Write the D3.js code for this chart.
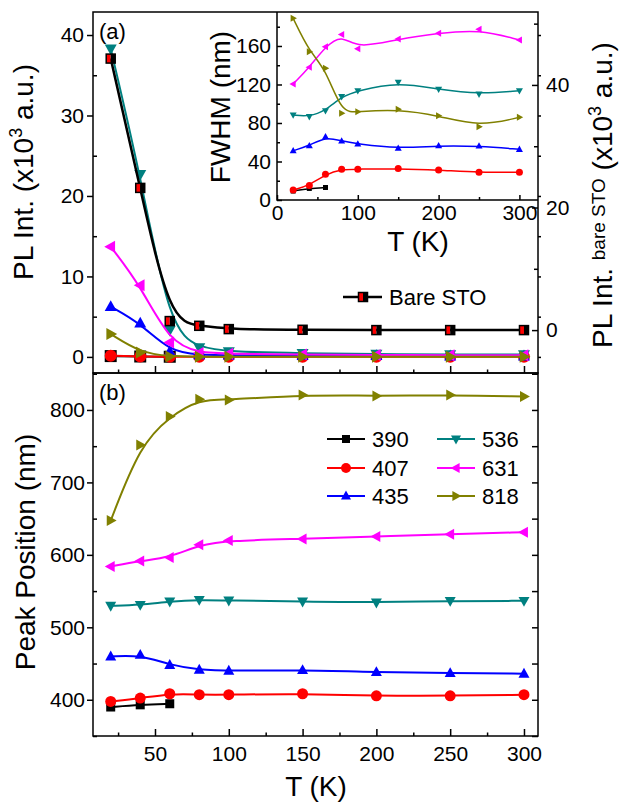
<!DOCTYPE html>
<html><head><meta charset="utf-8">
<script src="https://cdn.jsdelivr.net/npm/d3@7"></script>
<style>body{margin:0;background:#fff} text{font-family:"Liberation Sans",Arial,sans-serif;fill:#000}</style>
</head><body><svg id="c" width="621" height="804"></svg>
<script>
// ---------------- data ----------------
const temps = [20, 40, 60, 80, 100, 150, 200, 250, 300];
const temps390 = [20, 40, 60];
const seriesNames = ["390", "407", "435", "536", "631", "818"];
const seriesColors = ["#000000", "#ff0000", "#0000ff", "#008080", "#ff00ff", "#808000"];
const seriesSymbols = ["square", "circle", "triUp", "triDown", "triLeft", "triRight"];

// (a) PL intensity (x10^3 a.u.), left axis
const int390 = [0.1, 0.05, 0.02];
const int407 = [0.15, 0.05, 0.02, 0.01, 0.01, 0.01, 0.01, 0.01, 0.01];
const int435 = [6.25, 4.2, 0.65, 0.25, 0.2, 0.15, 0.15, 0.1, 0.1];
const int536 = [38.3, 22.7, 3.35, 1.15, 0.65, 0.45, 0.35, 0.3, 0.3];
const int631 = [13.7, 8.9, 1.8, 0.5, 0.4, 0.3, 0.25, 0.2, 0.2];
const int818 = [2.85, 0.55, 0.05, 0.03, 0.03, 0.02, 0.02, 0.02, 0.02];
// (a) bare STO (x10^3 a.u.), right axis
const bareSTO = [44.3, 23.2, 1.47, 0.7, 0.16, 0.05, 0, 0, 0];

// inset FWHM (nm)
const fw390 = [9.3, 12, 13];
const fw407 = [10.4, 15, 26.7, 31.9, 32, 32.6, 31.2, 28.7, 28.7];
const fw435 = [51.2, 56.4, 65.8, 61.3, 58.2, 53.7, 56.4, 56, 52.6];
const fw536 = [88.3, 86.6, 92.8, 107.4, 113.6, 122.3, 115, 110, 113.6];
const fw631 = [120.5, 137.8, 159.3, 171.8, 157, 167.3, 173.2, 177.3, 166.2];
const fw818 = [188.7, 154, 136.8, 90, 91.8, 94.2, 87.6, 76.2, 85.9];

// (b) peak position (nm)
const pos390 = [390, 393, 394.5];
const pos407 = [397.7, 402.3, 408.3, 407, 407, 408.3, 405.5, 405.5, 407];
const pos435 = [459.8, 462, 448, 441.4, 440, 441, 438.2, 436.8, 436];
const pos536 = [529.7, 531, 535.6, 537.9, 537, 535.6, 534.2, 536.5, 536.5];
const pos631 = [583.9, 591.7, 596.3, 613.8, 619.8, 622, 625.3, 628.5, 631.3];
const pos818 = [647.3, 751.7, 790.8, 814.7, 813.8, 820.7, 819.3, 820.7, 818.4];

const intTicks = [0, 10, 20, 30, 40];
const intMinor = [5, 15, 25, 35];
const stoTicks = [0, 20, 40];
const stoMinor = [10, 30, 50];
const posTicks = [400, 500, 600, 700, 800];
const posMinor = [350, 450, 550, 650, 750, 850];
const tTicks = [50, 100, 150, 200, 250, 300];
const tMinor = [25, 75, 125, 175, 225, 275];
const fwTicks = [0, 40, 80, 120, 160];
const fwMinor = [20, 60, 100, 140, 180];
const itTicks = [0, 100, 200, 300];
const itMinor = [50, 150, 250];

// ---------------- layout ----------------
const svg = d3.select("#c");
const L = 93, R = 538, Atop = 12, Abot = 373, Bbot = 736;
const x = d3.scaleLinear().domain([8, 309.5]).range([L, R]);
const yA = d3.scaleLinear().domain([-2, 42.86]).range([Abot, Atop]);
const yS = d3.scaleLinear().domain([-7.0, 51.9]).range([Abot, Atop]);
const yB = d3.scaleLinear().domain([350, 851]).range([Bbot, Abot]);
const IL = 277, IB = 200;
const xi = d3.scaleLinear().domain([0, 323]).range([IL, R]);
const yi = d3.scaleLinear().domain([0, 195.3]).range([IB, Atop]);

function markerPath(type, s) {
  const h = s * 0.9;
  switch (type) {
    case "square": return `M${-s/2},${-s/2}h${s}v${s}h${-s}Z`;
    case "circle": return d3.arc()({innerRadius:0, outerRadius:s/2, startAngle:0, endAngle:2*Math.PI});
    case "triUp": return `M0,${-h*0.6}L${s/2},${h*0.4}L${-s/2},${h*0.4}Z`;
    case "triDown": return `M0,${h*0.6}L${s/2},${-h*0.4}L${-s/2},${-h*0.4}Z`;
    case "triLeft": return `M${-h*0.6},0L${h*0.4},${s/2}L${h*0.4},${-s/2}Z`;
    case "triRight": return `M${h*0.6},0L${-h*0.4},${s/2}L${-h*0.4},${-s/2}Z`;
  }
}

function drawSeries(g, xs, ys, xScale, yScale, color, sym, size, lw, curve) {
  const pts = xs.map((t, i) => [xScale(t), yScale(ys[i])]);
  g.append("path").attr("d", d3.line().curve(curve)(pts))
    .attr("fill", "none").attr("stroke", color).attr("stroke-width", lw);
  g.selectAll(null).data(pts).enter().append("path")
    .attr("d", markerPath(sym, size))
    .attr("transform", d => `translate(${d[0]},${d[1]})`)
    .attr("fill", color);
}

function bareMarker(g, px, py, s) {
  g.append("rect").attr("x", px - s/2).attr("y", py - s/2).attr("width", s/2).attr("height", s).attr("fill", "#ff0000");
  g.append("rect").attr("x", px).attr("y", py - s/2).attr("width", s/2).attr("height", s).attr("fill", "#000");
  g.append("rect").attr("x", px - s/2).attr("y", py - s/2).attr("width", s).attr("height", s)
    .attr("fill", "none").attr("stroke", "#000").attr("stroke-width", 1.5);
}

function styleAxis(g, fs) {
  g.select(".domain").remove();
  g.selectAll("line").attr("stroke", "#000").attr("stroke-width", 1.5);
  g.selectAll("text").attr("font-size", fs).attr("font-family", "Liberation Sans, Arial, sans-serif").attr("fill", "#000");
}
function axis(gen, tx, ty, fs) {
  const g = svg.append("g").attr("transform", `translate(${tx},${ty})`).call(gen);
  styleAxis(g, fs || 21);
  return g;
}
const smooth = d3.curveBasis;

// ---------------- panel (a) ----------------
const gA = svg.append("g");
const intSets = [int390, int407, int435, int536, int631, int818];
intSets.forEach((arr, i) => {
  const xs = i === 0 ? temps390 : temps;
  drawSeries(gA, xs, arr, x, yA, seriesColors[i], seriesSymbols[i], 12, 2, smooth);
});
// bare STO line (right axis)
const stoPts = temps.map((t, i) => [x(t), yS(bareSTO[i])]);
gA.append("path").attr("d", d3.line().curve(smooth)(stoPts))
  .attr("fill", "none").attr("stroke", "#000").attr("stroke-width", 2.5);
stoPts.forEach(p => bareMarker(gA, p[0], p[1], 9));

// inset background
svg.append("rect").attr("x", IL).attr("y", Atop).attr("width", R - IL).attr("height", IB - Atop).attr("fill", "#fff");

// frames
svg.append("rect").attr("x", L).attr("y", Atop).attr("width", R - L).attr("height", Abot - Atop)
  .attr("fill", "none").attr("stroke", "#000").attr("stroke-width", 1.5);
svg.append("rect").attr("x", L).attr("y", Abot).attr("width", R - L).attr("height", Bbot - Abot)
  .attr("fill", "none").attr("stroke", "#000").attr("stroke-width", 1.5);

// axes panel (a)
axis(d3.axisLeft(yA).tickValues(intTicks).tickSize(6).tickPadding(3).tickFormat(d3.format("d")), L, 0);
axis(d3.axisLeft(yA).tickValues(intMinor).tickSize(-4).tickFormat(""), L, 0);
axis(d3.axisRight(yS).tickValues(stoTicks).tickSize(-6).tickPadding(8).tickFormat(d3.format("d")), R, 0);
axis(d3.axisRight(yS).tickValues(stoMinor).tickSize(-4).tickFormat(""), R, 0);
axis(d3.axisRight(yA).tickValues(intTicks.concat(intMinor)).tickSize(3).tickFormat(""), R, 0);
axis(d3.axisBottom(x).tickValues(tTicks).tickSize(-7).tickFormat(""), 0, Abot);
axis(d3.axisBottom(x).tickValues(tMinor).tickSize(-3.5).tickFormat(""), 0, Abot);

// ---------------- inset ----------------
const gI = svg.append("g");
const fwSets = [fw390, fw407, fw435, fw536, fw631, fw818];
fwSets.forEach((arr, i) => {
  const xs = i === 0 ? temps390 : temps;
  drawSeries(gI, xs, arr, xi, yi, seriesColors[i], seriesSymbols[i], i === 0 ? 5 : 7, 1.5, smooth);
});
svg.append("path").attr("d", `M${IL},${Atop}V${IB}H${R}`).attr("fill", "none").attr("stroke", "#000").attr("stroke-width", 1.5);
axis(d3.axisLeft(yi).tickValues(fwTicks).tickSize(-5).tickPadding(6).tickFormat(d3.format("d")), IL, 0);
axis(d3.axisLeft(yi).tickValues(fwMinor.filter(v => v < 195)).tickSize(-3).tickFormat(""), IL, 0);
axis(d3.axisBottom(xi).tickValues(itTicks).tickSize(-5).tickPadding(5).tickFormat(d3.format("d")), 0, IB);
axis(d3.axisBottom(xi).tickValues(itMinor).tickSize(-3).tickFormat(""), 0, IB);

svg.append("text").attr("transform", `translate(230,107) rotate(-90)`).attr("text-anchor", "middle")
  .attr("font-size", 28).text("FWHM (nm)");
svg.append("text").attr("x", 418).attr("y", 251).attr("text-anchor", "middle").attr("font-size", 28).text("T (K)");

// legend bare STO
svg.append("line").attr("x1", 343).attr("x2", 382).attr("y1", 297).attr("y2", 297).attr("stroke", "#000").attr("stroke-width", 2.5);
bareMarker(svg, 363, 297, 9);
svg.append("text").attr("x", 389).attr("y", 297).attr("dy", "0.35em").attr("font-size", 22).text("Bare STO");

svg.append("text").attr("x", 99).attr("y", 39).attr("font-size", 22).text("(a)");

// axis titles (a)
const tl = svg.append("text").attr("transform", `translate(33,172) rotate(-90)`).attr("text-anchor", "middle").attr("font-size", 28);
tl.append("tspan").text("PL Int. (x10");
tl.append("tspan").attr("dy", -11).attr("font-size", 18).text("3");
tl.append("tspan").attr("dy", 11).text(" a.u.)");

const tr = svg.append("text").attr("transform", `translate(612,195) rotate(-90)`).attr("text-anchor", "middle").attr("font-size", 28);
tr.append("tspan").text("PL Int. ");
tr.append("tspan").attr("dy", -7).attr("font-size", 19).text("bare STO");
tr.append("tspan").attr("dy", 7).text(" (x10");
tr.append("tspan").attr("dy", -11).attr("font-size", 18).text("3");
tr.append("tspan").attr("dy", 11).text(" a.u.)");

// ---------------- panel (b) ----------------
const gB = svg.append("g");
const posSets = [pos390, pos407, pos435, pos536, pos631, pos818];
posSets.forEach((arr, i) => {
  const xs = i === 0 ? temps390 : temps;
  drawSeries(gB, xs, arr, x, yB, seriesColors[i], seriesSymbols[i], i === 0 ? 9 : 11, 2, smooth);
});
axis(d3.axisLeft(yB).tickValues(posTicks).tickSize(6).tickPadding(2).tickFormat(d3.format("d")), L, 0);
axis(d3.axisLeft(yB).tickValues(posMinor).tickSize(-4).tickFormat(""), L, 0);
axis(d3.axisRight(yB).tickValues(posTicks.concat(posMinor)).tickSize(-6).tickFormat(""), R, 0);
axis(d3.axisBottom(x).tickValues(tTicks).tickSize(-7).tickPadding(10).tickFormat(d3.format("d")), 0, Bbot);
axis(d3.axisBottom(x).tickValues(tMinor).tickSize(-3.5).tickFormat(""), 0, Bbot);

svg.append("text").attr("x", 99).attr("y", 400).attr("font-size", 22).text("(b)");
svg.append("text").attr("transform", `translate(35,552) rotate(-90)`).attr("text-anchor", "middle").attr("font-size", 28).text("Peak Position (nm)");
svg.append("text").attr("x", 316).attr("y", 796).attr("text-anchor", "middle").attr("font-size", 28).text("T (K)");

// legend (b)
const legRows = [439, 468, 496];
const legCols = [[327, 365, 372], [437, 475, 482]];
seriesNames.forEach((name, i) => {
  const col = legCols[Math.floor(i / 3)], ry = legRows[i % 3];
  svg.append("line").attr("x1", col[0]).attr("x2", col[1]).attr("y1", ry).attr("y2", ry)
    .attr("stroke", seriesColors[i]).attr("stroke-width", 2);
  svg.append("path").attr("d", markerPath(seriesSymbols[i], i === 0 ? 8 : 10))
    .attr("transform", `translate(${(col[0] + col[1]) / 2},${ry})`).attr("fill", seriesColors[i]);
  svg.append("text").attr("x", col[2]).attr("y", ry).attr("dy", "0.36em").attr("font-size", 22).text(name);
});
</script>
</body></html>
